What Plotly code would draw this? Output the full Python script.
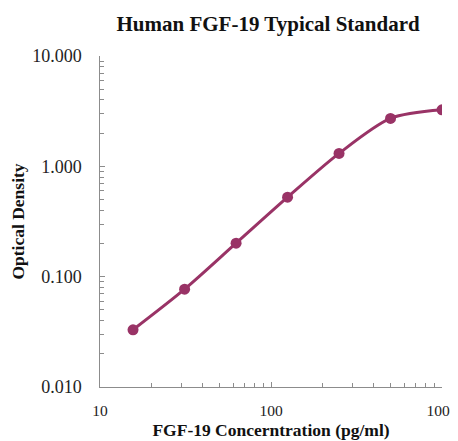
import plotly.graph_objects as go

concentration = [15.6, 31.25, 62.5, 125, 250, 500, 1000]
optical_density = [0.033, 0.077, 0.201, 0.525, 1.31, 2.72, 3.25]

x_ticks = [10, 100, 1000]
x_tick_labels = ["10", "100", "1000"]
y_ticks = [0.01, 0.1, 1, 10]
y_tick_labels = ["0.010", "0.100", "1.000", "10.000"]

color = "#993366"
serif = "Liberation Serif, Times New Roman, serif"
label_pad = "\u00a0" * 3  # gap between y tick labels and axis

x_minor = [m * d for d in (10, 100) for m in range(2, 10)]
y_minor = [m * d for d in (0.01, 0.1, 1) for m in range(2, 10)]

fig = go.Figure(go.Scatter(
    x=concentration, y=optical_density, mode="lines+markers",
    line=dict(color=color, width=3, shape="spline", smoothing=0.8),
    marker=dict(color=color, size=11),
))

axis_common = dict(
    showline=True, linecolor="#8c8c8c", linewidth=1.2, showgrid=False, zeroline=False,
    ticks="inside", ticklen=5, tickcolor="#8c8c8c",
    mirror=False, automargin=False,
)

# page has an 8px body margin, so figure is 450x433 placed at (8, 8)
fig.update_layout(
    width=450, height=433,
    margin=dict(l=92, r=16, t=48, b=54),
    paper_bgcolor="white", plot_bgcolor="white",
    showlegend=False,
    title=dict(text="<b>Human FGF-19 Typical Standard</b>", x=0.578, xanchor="center",
               y=1 - 16 / 433, yanchor="middle", automargin=False,
               font=dict(family=serif, size=21, color="#111111")),
    xaxis=dict(type="log", range=[1, 3], tickvals=x_ticks, ticktext=x_tick_labels,
               minor=dict(tickvals=x_minor, ticks="inside", ticklen=4, tickcolor="#8c8c8c"),
               ticklabelstandoff=9, ticklabeloverflow="allow",
               tickfont=dict(family=serif, size=15.5, color="#222222"),
               title=dict(text="<b>FGF-19 Concerntration (pg/ml)</b>", standoff=6,
                          font=dict(family=serif, size=17.5, color="#111111")),
               **axis_common),
    yaxis=dict(type="log", range=[-2, 1], tickvals=y_ticks,
               ticktext=[t + label_pad for t in y_tick_labels],
               minor=dict(tickvals=y_minor, ticks="inside", ticklen=4, tickcolor="#8c8c8c"),
               tickfont=dict(family=serif, size=18, color="#222222"),
               title=dict(text="<b>Optical Density</b>", standoff=6,
                          font=dict(family=serif, size=17.5, color="#111111")),
               **axis_common),
)

fig.write_html("out.html")
